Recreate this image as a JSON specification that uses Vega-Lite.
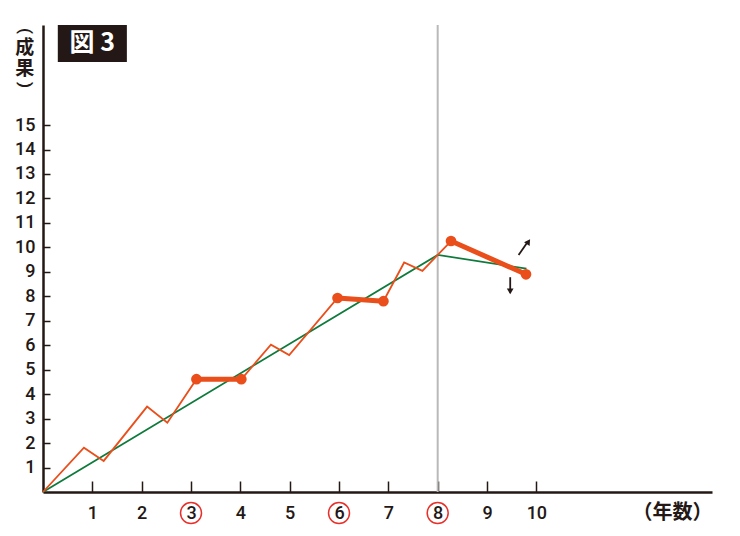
{
  "$schema": "https://vega.github.io/schema/vega-lite/v6.json",
  "width": 669,
  "height": 467,
  "autosize": {"type": "none"},
  "padding": {"left": 43, "top": 25, "right": 28, "bottom": 44},
  "background": "white",
  "config": {
    "view": {"stroke": null},
    "font": "Noto Sans CJK JP",
    "axis": {"grid": false, "labelOverlap": false}
  },
  "datasets": {
    "vline": [{"x": 8}],
    "orange": [
      {"x": 0, "y": 0},
      {"x": 0.83, "y": 1.81},
      {"x": 1.23, "y": 1.27},
      {"x": 2.11, "y": 3.49},
      {"x": 2.52, "y": 2.83},
      {"x": 3.11, "y": 4.61},
      {"x": 4.02, "y": 4.61},
      {"x": 4.62, "y": 6.02},
      {"x": 4.99, "y": 5.6},
      {"x": 5.97, "y": 7.93},
      {"x": 6.9, "y": 7.8},
      {"x": 7.32, "y": 9.38},
      {"x": 7.69, "y": 9.04},
      {"x": 8.27, "y": 10.26}
    ],
    "green": [
      {"x": 0, "y": 0},
      {"x": 8, "y": 9.69},
      {"x": 9.8, "y": 9.13}
    ],
    "thick": [
      {"seg": "A", "x": 3.11, "y": 4.61},
      {"seg": "A", "x": 4.02, "y": 4.61},
      {"seg": "B", "x": 5.97, "y": 7.93},
      {"seg": "B", "x": 6.9, "y": 7.8},
      {"seg": "C", "x": 8.27, "y": 10.26},
      {"seg": "C", "x": 9.79, "y": 8.9}
    ],
    "arrows": [
      {"x": 9.64, "y": 9.69, "x2": 9.83, "y2": 10.24},
      {"x": 9.47, "y": 8.78, "x2": 9.47, "y2": 8.15}
    ],
    "heads": [
      {"x": 9.84, "y": 10.23, "angle": 34},
      {"x": 9.47, "y": 8.2, "angle": 180}
    ],
    "circles": [
      {"x": 3, "y": -0.86},
      {"x": 6, "y": -0.86},
      {"x": 8, "y": -0.86}
    ],
    "ytitle": [
      {"x": -0.37, "y": 18.13, "t": "成"},
      {"x": -0.37, "y": 17.31, "t": "果"}
    ],
    "yparen": [
      {"x": -0.37, "y": 18.85, "t": "("},
      {"x": -0.37, "y": 16.64, "t": ")"}
    ],
    "box": [{"x": 0.3, "x2": 1.7, "y": 17.58, "y2": 19.09, "cx": 1.0, "cy": 18.34, "label": "図 3"}]
  },
  "layer": [
    {
      "data": {"name": "vline"},
      "mark": {"type": "rule", "color": "#b9b9b9", "strokeWidth": 2},
      "encoding": {
        "x": {
          "field": "x", "type": "quantitative",
          "scale": {"domain": [0, 13.56], "nice": false, "zero": false},
          "axis": {
            "values": [1, 2, 3, 4, 5, 6, 7, 8, 9, 10], "tickCount": 20, "format": "d",
            "tickSize": -11, "tickWidth": 1.5, "tickColor": "#231815",
            "domainColor": "#231815", "domainWidth": 2.5,
            "labelFontSize": 18, "labelColor": "#231815", "labelPadding": 23,
            "labelOverlap": false, "labelBound": false,
            "labelFont": "Roboto", "labelFontWeight": 500,
            "title": "（年数）", "titleX": 669, "titleY": 20,
            "titleAlign": "right", "titleBaseline": "middle",
            "titleFontSize": 20, "titleFontWeight": "bold", "titleColor": "#231815"
          }
        }
      }
    },
    {
      "data": {"name": "green"},
      "mark": {"type": "line", "color": "#0e7a3c", "strokeWidth": 1.8},
      "encoding": {
        "x": {"field": "x", "type": "quantitative"},
        "y": {
          "field": "y", "type": "quantitative",
          "scale": {"domain": [0, 19.09], "nice": false, "zero": false},
          "axis": {
            "values": [1, 2, 3, 4, 5, 6, 7, 8, 9, 10, 11, 12, 13, 14, 15], "tickCount": 30, "format": "d",
            "tickSize": -7, "tickWidth": 1.5, "tickColor": "#231815",
            "domainColor": "#231815", "domainWidth": 2.5,
            "labelFontSize": 18, "labelColor": "#231815", "labelPadding": 15,
            "labelOverlap": false, "labelBound": false,
            "labelFont": "Roboto", "labelFontWeight": 500,
            "title": null
          }
        }
      }
    },
    {
      "data": {"name": "orange"},
      "mark": {"type": "line", "color": "#e94e1b", "strokeWidth": 1.8},
      "encoding": {
        "x": {"field": "x", "type": "quantitative"},
        "y": {"field": "y", "type": "quantitative"}
      }
    },
    {
      "data": {"name": "thick"},
      "mark": {"type": "line", "color": "#e94e1b", "strokeWidth": 5, "strokeCap": "round"},
      "encoding": {
        "x": {"field": "x", "type": "quantitative"},
        "y": {"field": "y", "type": "quantitative"},
        "detail": {"field": "seg", "type": "nominal"}
      }
    },
    {
      "data": {"name": "thick"},
      "mark": {"type": "point", "filled": true, "opacity": 1, "color": "#e94e1b", "size": 115},
      "encoding": {
        "x": {"field": "x", "type": "quantitative"},
        "y": {"field": "y", "type": "quantitative"}
      }
    },
    {
      "data": {"name": "arrows"},
      "mark": {"type": "rule", "color": "#231815", "strokeWidth": 1.8},
      "encoding": {
        "x": {"field": "x", "type": "quantitative"},
        "y": {"field": "y", "type": "quantitative"},
        "x2": {"field": "x2"},
        "y2": {"field": "y2"}
      }
    },
    {
      "data": {"name": "heads"},
      "mark": {"type": "point", "shape": "triangle-up", "filled": true, "opacity": 1, "color": "#231815", "size": 45},
      "encoding": {
        "x": {"field": "x", "type": "quantitative"},
        "y": {"field": "y", "type": "quantitative"},
        "angle": {"field": "angle", "type": "quantitative", "scale": null}
      }
    },
    {
      "data": {"name": "circles"},
      "mark": {"type": "point", "shape": "circle", "filled": false, "opacity": 1, "color": "#e8302a", "strokeWidth": 1.5, "size": 441},
      "encoding": {
        "x": {"field": "x", "type": "quantitative"},
        "y": {"field": "y", "type": "quantitative"}
      }
    },
    {
      "data": {"name": "ytitle"},
      "mark": {"type": "text", "color": "#231815", "fontSize": 19, "fontWeight": "bold", "align": "center", "baseline": "middle"},
      "encoding": {
        "x": {"field": "x", "type": "quantitative"},
        "y": {"field": "y", "type": "quantitative"},
        "text": {"field": "t"}
      }
    },
    {
      "data": {"name": "yparen"},
      "mark": {"type": "text", "color": "#231815", "font": "Roboto", "fontSize": 17, "fontWeight": "bold", "align": "center", "baseline": "middle", "angle": 90},
      "encoding": {
        "x": {"field": "x", "type": "quantitative"},
        "y": {"field": "y", "type": "quantitative"},
        "text": {"field": "t"}
      }
    },
    {
      "data": {"name": "box"},
      "mark": {"type": "rect", "color": "#231815"},
      "encoding": {
        "x": {"field": "x", "type": "quantitative"},
        "x2": {"field": "x2"},
        "y": {"field": "y", "type": "quantitative"},
        "y2": {"field": "y2"}
      }
    },
    {
      "data": {"name": "box"},
      "mark": {"type": "text", "color": "white", "fontSize": 25, "fontWeight": "bold", "align": "center", "baseline": "middle"},
      "encoding": {
        "x": {"field": "cx", "type": "quantitative"},
        "y": {"field": "cy", "type": "quantitative"},
        "text": {"field": "label"}
      }
    }
  ]
}
